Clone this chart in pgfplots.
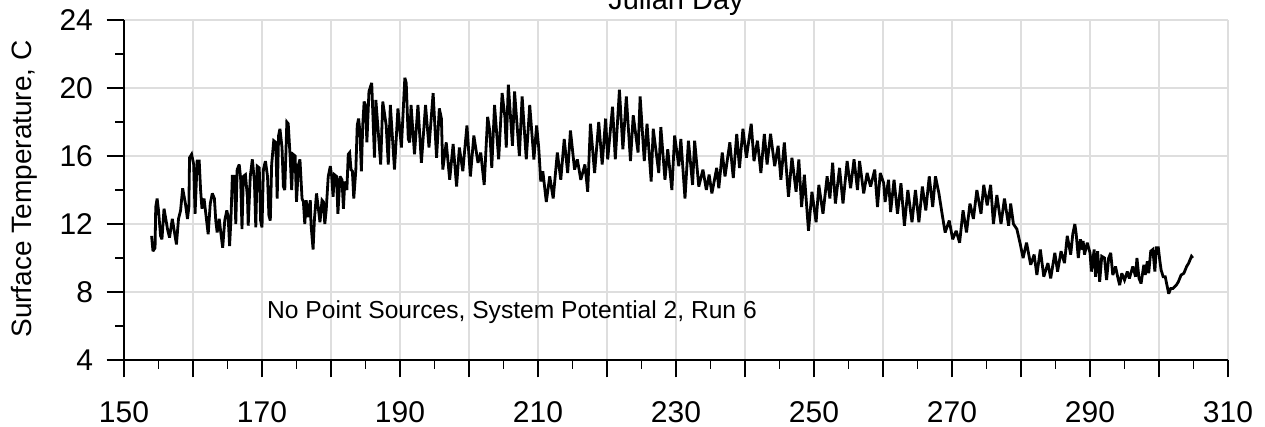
\documentclass[border=0pt]{standalone}
\usepackage{fontspec}
\setmainfont{Liberation Sans}
\usepackage{pgfplots}
\pgfplotsset{compat=1.18}
\definecolor{gridgray}{RGB}{222,222,222}

\begin{document}
\begin{tikzpicture}
\begin{axis}[
  scale only axis,
  width=552pt, height=170pt,
  xmin=150, xmax=310, ymin=4, ymax=24,
  axis x line*=bottom, axis y line*=left,
  axis line style={black, line width=0.85pt},
  xtick={150,160,...,310},
  xticklabels={150,,170,,190,,210,,230,,250,,270,,290,,310},
  minor xtick={155,165,...,305},
  ytick={4,8,...,24},
  minor ytick={6,10,...,22},
  tick align=outside,
  major tick length=8.75pt,
  minor tick length=4.5pt,
  tick style={black, line width=0.85pt},
  grid=major,
  major grid style={gridgray, line width=0.65pt},
  /pgf/number format/assume math mode=true,
  xticklabel style={font=\fontsize{15}{17}\selectfont, anchor=base, yshift=-22.5pt},
  yticklabel style={font=\fontsize{15}{17}\selectfont, anchor=east, xshift=-3.25pt},
  clip=false,
]
\addplot[black, line width=1.4pt, line join=miter, miter limit=3] coordinates {
(154.0,11.3) (154.2,10.4) (154.5,10.6) (154.6,13.0) (154.8,13.5) (155.0,12.8)
(155.3,11.3) (155.5,11.1) (155.8,12.9) (156.1,12.2) (156.3,11.7) (156.6,11.2)
(157.0,12.3) (157.4,11.3) (157.6,10.8) (157.9,12.3) (158.2,12.8) (158.5,14.1)
(158.9,13.2) (159.2,12.3) (159.4,13.0) (159.5,15.9) (159.8,16.1) (160.1,15.5)
(160.3,12.6) (160.6,15.7) (160.9,15.7) (161.1,14.0) (161.3,12.9) (161.6,13.5)
(161.8,12.8) (162.2,11.4) (162.5,13.2) (162.8,13.8) (163.1,13.5) (163.3,12.2)
(163.5,11.5) (163.8,12.3) (164.0,11.6) (164.3,10.6) (164.6,12.2) (164.9,12.8)
(165.1,12.4) (165.3,10.7) (165.5,12.3) (165.7,14.8) (166.0,14.8) (166.2,12.0)
(166.4,15.2) (166.7,15.5) (166.9,14.7) (167.1,11.7) (167.3,14.8) (167.6,14.9)
(167.9,13.5) (168.0,11.9) (168.3,14.8) (168.6,15.8) (168.9,14.5) (169.1,11.8)
(169.3,15.4) (169.6,15.3) (169.8,12.2) (170.0,11.8) (170.2,15.2) (170.5,15.7)
(170.8,14.8) (171.0,12.5) (171.2,12.2) (171.4,15.5) (171.7,16.9) (172.0,16.8)
(172.2,13.5) (172.4,17.2) (172.6,17.6) (172.9,16.5) (173.1,14.2) (173.3,14.0)
(173.6,18.0) (173.8,17.9) (174.1,15.8) (174.3,14.0) (174.5,16.1) (174.8,16.0)
(175.0,13.3) (175.3,15.5) (175.5,15.8) (175.8,13.5) (176.0,13.3) (176.2,12.0)
(176.4,13.4) (176.7,12.4) (177.0,13.4) (177.1,12.0) (177.4,10.5) (177.6,12.3)
(177.9,13.8) (178.2,12.8) (178.4,12.1) (178.7,13.4) (178.9,13.3) (179.1,12.0)
(179.3,12.8) (179.6,14.8) (179.9,15.4) (180.1,14.8) (180.3,13.6) (180.5,14.9)
(180.8,14.8) (181.0,12.6) (181.3,14.8) (181.6,14.6) (181.8,12.9) (182.0,14.5)
(182.3,14.0) (182.5,16.1) (182.7,16.2) (182.9,15.2) (183.1,15.1) (183.3,13.5)
(183.6,15.2) (183.8,17.8) (184.0,18.2) (184.2,17.4) (184.4,15.1) (184.6,17.8)
(184.8,19.2) (185.0,19.0) (185.2,16.8) (185.5,19.8) (185.9,20.3) (186.3,15.9)
(186.5,19.3) (187.2,15.5) (187.5,19.2) (188.0,17.8) (188.3,15.5) (188.6,19.0)
(189.2,15.2) (189.7,18.8) (190.2,16.5) (190.7,20.6) (190.9,20.3) (191.2,17.0)
(191.4,16.8) (191.6,19.0) (192.1,16.1) (192.6,19.0) (193.1,15.6) (193.7,19.0)
(194.2,16.5) (194.8,19.7) (195.3,15.9) (195.7,18.8) (196.0,18.2) (196.2,15.2)
(196.7,16.8) (197.2,14.6) (197.7,16.7) (198.2,14.2) (198.6,16.5) (199.1,15.1)
(199.7,17.8) (200.2,14.8) (200.7,17.2) (201.3,15.6) (201.7,16.2) (202.2,14.3)
(202.7,18.3) (203.0,17.5) (203.3,15.3) (203.7,19.0) (204.3,15.8) (204.8,19.7)
(205.2,18.3) (205.4,16.5) (205.7,20.2) (206.3,16.6) (206.6,19.8) (207.3,16.0)
(207.7,19.5) (208.3,15.8) (208.8,19.0) (209.4,15.8) (209.8,17.8) (210.1,16.5)
(210.4,14.5) (210.7,15.1) (211.2,13.3) (211.7,14.8) (212.2,13.5) (212.8,16.2)
(213.3,14.6) (213.8,17.0) (214.3,15.0) (214.7,17.5) (215.3,15.2) (215.7,15.8)
(216.2,14.6) (216.8,15.5) (217.2,13.9) (217.6,17.9) (218.2,15.0) (218.8,18.0)
(219.3,15.5) (219.8,18.2) (220.1,15.8) (220.8,18.9) (221.2,15.8) (221.8,19.9)
(222.3,16.4) (222.8,19.5) (223.4,15.7) (223.8,18.4) (224.5,16.2) (224.8,19.5)
(225.4,15.7) (225.8,17.9) (226.4,14.5) (226.7,17.6) (227.5,15.0) (227.8,17.7)
(228.4,14.6) (228.8,16.4) (229.4,14.0) (229.8,17.2) (230.4,15.4) (230.7,17.0)
(231.3,13.5) (231.8,16.9) (232.4,14.3) (232.7,16.9) (233.3,14.2) (233.9,15.2)
(234.4,14.0) (234.8,14.9) (235.2,13.8) (235.9,15.3) (236.2,14.1) (236.7,16.2)
(237.1,14.8) (237.8,16.8) (238.3,14.7) (238.8,17.3) (239.2,15.3) (239.7,17.6)
(240.2,15.9) (240.9,17.9) (241.3,15.7) (241.8,16.9) (242.3,15.0) (242.8,17.3)
(243.2,15.5) (243.7,17.3) (244.3,15.4) (244.8,16.6) (245.2,14.6) (245.7,16.8)
(246.3,13.6) (246.8,15.9) (247.4,13.9) (247.8,15.8) (248.2,13.0) (248.6,14.9)
(249.2,11.6) (249.7,13.9) (250.3,12.1) (250.7,14.3) (251.3,12.6) (251.9,14.8)
(252.3,13.5) (252.7,15.6) (253.1,13.2) (253.7,15.3) (254.2,13.2) (254.8,15.7)
(255.3,14.1) (255.8,15.8) (256.3,14.0) (256.6,15.7) (257.2,13.8) (257.7,15.0)
(258.2,14.2) (258.8,15.2) (259.2,13.0) (259.6,15.0) (260.1,14.4) (260.3,13.3)
(260.8,14.6) (261.1,12.7) (261.6,14.6) (262.1,12.6) (262.6,14.4) (263.1,11.9)
(263.6,14.0) (264.2,12.1) (264.7,14.0) (265.2,12.1) (265.7,14.2) (266.2,12.8)
(266.7,14.8) (267.2,13.0) (267.6,14.8) (268.1,13.8) (268.6,12.5) (269.0,11.5)
(269.6,12.2) (270.1,11.1) (270.6,11.6) (271.1,10.9) (271.6,12.8) (272.1,11.5)
(272.6,13.2) (273.1,12.3) (273.6,14.0) (274.2,12.6) (274.6,14.3) (275.1,13.1)
(275.6,14.3) (276.0,12.0) (276.5,13.7) (277.1,12.0) (277.6,13.5) (278.2,11.9)
(278.5,13.2) (278.9,12.0) (279.4,11.7) (279.9,10.8) (280.3,10.0) (280.8,10.9)
(281.4,9.6) (281.9,10.2) (282.3,9.0) (282.8,10.5) (283.3,8.9) (283.9,9.7)
(284.3,8.8) (284.9,10.3) (285.3,9.2) (285.8,10.4) (286.3,9.7) (286.7,11.3)
(287.2,10.2) (287.5,11.4) (287.8,12.0) (288.0,11.4) (288.3,10.0) (288.6,11.1)
(288.7,10.5) (289.0,11.0) (289.2,10.2) (289.6,10.9) (290.0,10.3) (290.2,9.2)
(290.6,10.5) (290.8,8.9) (291.1,10.4) (291.4,8.6) (291.7,10.1) (292.1,10.0)
(292.4,8.7) (292.7,10.0) (293.0,10.3) (293.3,9.0) (293.7,9.5) (294.0,8.9)
(294.3,8.4) (294.6,9.1) (295.0,8.7) (295.4,9.2) (295.7,8.8) (296.2,9.5)
(296.6,8.9) (296.8,10.0) (297.1,8.8) (297.4,8.5) (297.8,9.6) (298.0,9.0)
(298.3,9.8) (298.5,9.1) (298.8,10.4) (299.1,10.5) (299.4,9.2) (299.6,10.6)
(299.9,10.6) (300.1,9.9) (300.3,9.3) (300.6,8.9) (300.9,8.9) (301.2,8.3)
(301.4,7.9) (301.7,8.2) (302.0,8.2) (302.5,8.4) (302.8,8.6) (303.2,9.0)
(303.6,9.1) (304.0,9.5) (304.3,9.7) (304.7,10.1) (304.9,10.0)
};
\node[anchor=base west, inner sep=0pt, font=\fontsize{12.3}{14}\selectfont]
  at (axis cs:170.7,6.47) {No Point Sources, System Potential 2, Run 6};
\node[anchor=base, inner sep=0pt, font=\fontsize{14.5}{16}\selectfont]
  at (rel axis cs:0.5,1.0294) {Julian Day};
\node[anchor=base, rotate=90, inner sep=0pt, font=\fontsize{14}{16}\selectfont]
  at (rel axis cs:-0.0842,0.503) {Surface Temperature, C};
\coordinate (bl) at (rel axis cs:-0.11232,-0.19706);
\coordinate (tr) at (rel axis cs:1.03351,1.05882);
\end{axis}
\pgfresetboundingbox
\path[use as bounding box] (bl) rectangle (tr);
\end{tikzpicture}
\end{document}
